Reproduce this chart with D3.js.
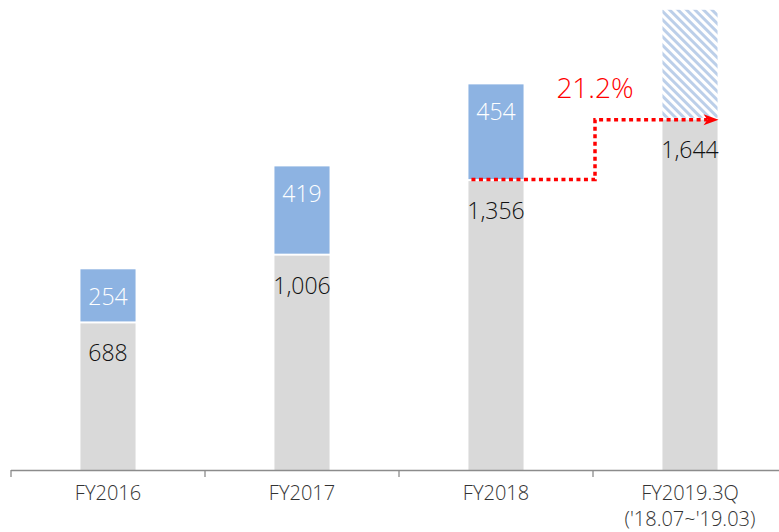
<!DOCTYPE html>
<html><head><meta charset="utf-8">
<script src="https://cdn.jsdelivr.net/npm/d3@7"></script>
<style>body{margin:0;background:#fff}svg{display:block}</style>
</head><body>
<svg id="c" width="779" height="532"></svg>
<script>
const categories = ["FY2016", "FY2017", "FY2018", "FY2019.3Q"];
const subLabels = ["", "", "", "('18.07~'19.03)"];
const baseValues = [688, 1006, 1356, 1644];
const topValues = [254, 419, 454, 516];
const topIsForecast = [false, false, false, true];
const growthLabel = "21.2%";
const fmt = d3.format(",");
const FONT = "'Open Sans', 'Noto Sans', sans-serif";

const svg = d3.select("#c");
const x = d3.scaleBand().domain(categories).range([11, 787]).padding(0);
const y = d3.scaleLinear().domain([0, 2206]).range([470, 0]);
const barW = x.bandwidth() * 0.284;
const cx = c => x(c) + x.bandwidth() / 2;

const defs = svg.append("defs");
const pat = defs.append("pattern").attr("id", "hatch").attr("patternUnits", "userSpaceOnUse")
  .attr("width", 6).attr("height", 6).attr("patternTransform", "rotate(45)");
pat.append("rect").attr("width", 6).attr("height", 6).attr("fill", "#fff");
pat.append("rect").attr("width", 6).attr("height", 3).attr("fill", "#bccfe9");

const data = categories.map((c, i) => ({c, base: baseValues[i], top: topValues[i], fc: topIsForecast[i]}));

svg.selectAll(".base").data(data).enter().append("rect")
  .attr("x", d => cx(d.c) - barW / 2).attr("width", barW)
  .attr("y", d => y(d.base)).attr("height", d => y(0) - y(d.base))
  .attr("fill", "#d9d9d9");

svg.selectAll(".top").data(data).enter().append("rect")
  .attr("x", d => cx(d.c) - barW / 2).attr("width", barW)
  .attr("y", d => y(d.base + d.top)).attr("height", d => y(d.base) - y(d.base + d.top) - 2)
  .attr("fill", d => d.fc ? "url(#hatch)" : "#8db3e2");

svg.selectAll(".bl").data(data).enter().append("text")
  .attr("x", d => cx(d.c)).attr("y", d => y(d.base) + 38)
  .attr("text-anchor", "middle").attr("font-family", FONT).attr("font-size", 23)
  .attr("font-weight", 300).attr("fill", "#111").text(d => fmt(d.base));
svg.selectAll(".tl").data(data.filter(d => !d.fc)).enter().append("text")
  .attr("x", d => cx(d.c)).attr("y", d => y(d.base + d.top) + 36)
  .attr("text-anchor", "middle").attr("font-family", FONT).attr("font-size", 23)
  .attr("font-weight", 300).attr("fill", "#ffffff").text(d => fmt(d.top));

const ax = svg.append("g").attr("stroke", "#8c8c8c").attr("stroke-width", 1.3);
ax.append("line").attr("x1", x.range()[0]).attr("x2", 779).attr("y1", y(0) + 0.5).attr("y2", y(0) + 0.5);
categories.concat([null]).forEach(c => {
  const tx = c === null ? x.range()[1] : x(c);
  ax.append("line").attr("x1", tx).attr("x2", tx).attr("y1", y(0)).attr("y2", y(0) + 7);
});
svg.selectAll(".cl").data(categories).enter().append("text")
  .attr("x", c => cx(c)).attr("y", 500).attr("text-anchor", "middle")
  .attr("font-family", FONT).attr("font-size", 20).attr("font-weight", 300).attr("fill", "#333")
  .text(c => c);
svg.selectAll(".sl").data(categories.filter((c, i) => subLabels[i])).enter().append("text")
  .attr("x", c => cx(c)).attr("y", 526).attr("text-anchor", "middle")
  .attr("font-family", FONT).attr("font-size", 20).attr("font-weight", 300).attr("fill", "#333")
  .text(c => subLabels[categories.indexOf(c)]);

const c3 = categories[2], c4 = categories[3];
const y1 = y(baseValues[2]) - 1.5, y2 = y(baseValues[3]);
const xs = cx(c3) - barW / 2 + 3, xm = x(c4) + 2, xe = cx(c4) + barW / 2 - 10;
svg.append("path")
  .attr("d", `M${xs},${y1}H${xm}V${y2}H${xe}`)
  .attr("fill", "none").attr("stroke", "#ff0000").attr("stroke-width", 3.5)
  .attr("stroke-dasharray", "4,3.5");
svg.append("path")
  .attr("d", `M${xe - 4},${y2 - 5.5}L${xe + 11},${y2}L${xe - 4},${y2 + 5.5}L${xe},${y2}Z`)
  .attr("fill", "#ff0000");
svg.append("text").attr("x", xm).attr("y", y2 - 22).attr("text-anchor", "middle")
  .attr("font-family", FONT).attr("font-size", 28).attr("font-weight", 300).attr("fill", "#ff0000")
  .text(growthLabel);
</script>
</body></html>
